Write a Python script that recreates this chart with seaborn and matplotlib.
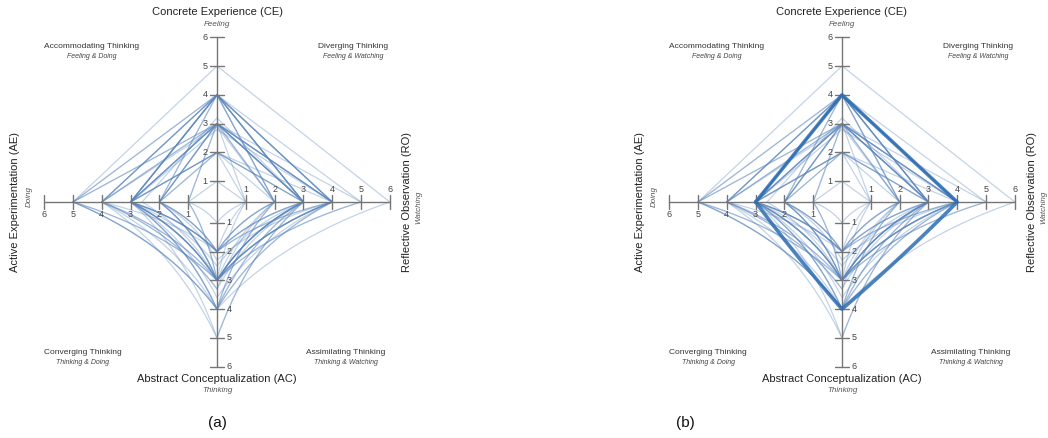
import numpy as np
import pandas as pd
import seaborn as sns
import matplotlib.pyplot as plt

# scores per learner: Concrete Experience, Reflective Observation,
# Abstract Conceptualization, Active Experimentation
ce = [5, 4, 4, 3, 3, 4, 3, 2, 1, 2, 4, 3, 4, 3, 4, 3, 2, 4, 3, 4, 3, 3, 2, 4, 3, 4, 3, 4, 3, 2.8,
      3, 4, 2, 3, 4, 3, 3.2, 2.9, 4, 2, 4]
ro = [6, 4, 3, 3, 4, 4, 3, 3, 1, 2, 5, 4, 3, 2, 4, 3, 4, 2, 4, 3, 1, 3, 3, 4, 5, 3, 4, 2, 3, 4,
      2, 3, 3, 4, 4, 3, 3, 2, 3, 1, 2]
ac = [4, 3, 3, 3, 2, 4, 2, 3, 1, 2, 3, 3, 5, 4, 2, 3, 3, 3, 4, 2, 3, 4, 2, 3, 3, 3.3, 3, 2, 5, 3.6,
      2, 4, 3, 2.3, 3, 3, 3, 3.3, 2.5, 2, 4]
ae = [5, 3, 3, 3, 3, 3, 2, 2, 1, 2, 4, 5, 3, 3, 4, 4, 3, 2, 3, 3, 1, 5, 3, 5, 3, 4, 2, 3, 4, 3,
      2, 5, 3, 2, 2, 1, 2.6, 4, 3, 3, 4]

# profile emphasised in panel (b)
hl_ce, hl_ro, hl_ac, hl_ae = 4, 4, 4, 3

tick_vals = [1, 2, 3, 4, 5, 6]
panel_tags = ['(a)', '(b)']

sns.set_theme(style='white')
plt.rcParams['font.family'] = ['Liberation Sans Narrow', 'Liberation Sans', 'DejaVu Sans']

U = 28.8       # pixels per score unit
VOFF = 0.28    # vertical axes start slightly off the centre
AX_COL = '#767676'
LINE_COL = '#5a86bd'
TXT = '#444444'


def bez(p0, p2, bend, n=24):
    c = (bend * (p0[0] + p2[0]), bend * (p0[1] + p2[1]))
    t = np.linspace(0, 1, n)
    x = (1 - t) ** 2 * p0[0] + 2 * (1 - t) * t * c[0] + t ** 2 * p2[0]
    y = (1 - t) ** 2 * p0[1] + 2 * (1 - t) * t * c[1] + t ** 2 * p2[1]
    return list(x), list(y)


def outline(c, r, a, e, bend=0.36):
    # upper edges straight, lower edges bow towards the centre
    top = (0, c - VOFF)
    right = (r, 0)
    bottom = (0, -(a - VOFF))
    left = (-e, 0)
    xs = [left[0], top[0], right[0]]
    ys = [left[1], top[1], right[1]]
    bx, by = bez(right, bottom, bend)
    xs += bx[1:]
    ys += by[1:]
    bx, by = bez(bottom, left, bend)
    xs += bx[1:]
    ys += by[1:]
    return xs, ys


rows = []
for i in range(len(ce)):
    xs, ys = outline(ce[i], ro[i], ac[i], ae[i])
    for j in range(len(xs)):
        rows.append({'id': i, 'order': j, 'x': xs[j], 'y': ys[j]})
df = pd.DataFrame(rows)

hx, hy = outline(hl_ce, hl_ro, hl_ac, hl_ae, bend=0.52)
df_hl = pd.DataFrame({'id': 0, 'order': range(len(hx)), 'x': hx, 'y': hy})

fig = plt.figure(figsize=(10.48, 4.38), dpi=100)
centers = [217, 842]
edges = [(0, 524), (524, 1048)]

for k in range(2):
    cx = centers[k]
    l, r = edges[k]
    ax = fig.add_axes([l / 1048, 0, (r - l) / 1048, 1])
    ax.set_xlim((l - cx) / U, (r - cx) / U)
    ax.set_ylim(-(438 - 202) / U, 202 / U)
    ax.axis('off')

    sns.lineplot(data=df, x='x', y='y', units='id', estimator=None, sort=False,
                 color=LINE_COL, alpha=0.36, linewidth=0.9, ax=ax, zorder=2)
    if k == 1:
        sns.lineplot(data=df_hl, x='x', y='y', units='id', estimator=None, sort=False,
                     color='#2c6db3', alpha=0.85, linewidth=2.6, ax=ax, zorder=4)

    # axes cross
    top6 = 6 - VOFF
    ax.plot([0, 0], [-top6, top6], color=AX_COL, lw=1.0, zorder=3)
    ax.plot([-6, 6], [0, 0], color=AX_COL, lw=1.0, zorder=3)
    tl = 0.23
    for v in tick_vals:
        yv = v - VOFF
        ax.plot([-tl, tl], [yv, yv], color=AX_COL, lw=1.0, zorder=3)
        ax.plot([-tl, tl], [-yv, -yv], color=AX_COL, lw=1.0, zorder=3)
        ax.plot([v, v], [-tl, tl], color=AX_COL, lw=1.0, zorder=3)
        ax.plot([-v, -v], [-tl, tl], color=AX_COL, lw=1.0, zorder=3)
        ax.text(-0.42, yv, str(v), ha='center', va='center', fontsize=6.5, color=TXT)
        ax.text(0.42, -yv, str(v), ha='center', va='center', fontsize=6.5, color=TXT)
        ax.text(v, 0.45, str(v), ha='center', va='center', fontsize=6.5, color=TXT)
        ax.text(-v, -0.45, str(v), ha='center', va='center', fontsize=6.5, color=TXT)

    # dimension names
    ax.text(0, 190 / U, 'Concrete Experience (CE)', ha='center', va='center', fontsize=8, color='#222222')
    ax.text(0, 177 / U, 'Feeling', ha='center', va='center', fontsize=5.8, style='italic', color='#555555')
    ax.text(0, -177 / U, 'Abstract Conceptualization (AC)', ha='center', va='center', fontsize=8,
            color='#222222')
    ax.text(0, -189 / U, 'Thinking', ha='center', va='center', fontsize=5.8, style='italic', color='#555555')
    ax.text(-202 / U, 0, 'Active Experimentation (AE)', ha='center', va='center', rotation=90,
            fontsize=8, color='#222222')
    ax.text(-188 / U, 0.2, 'Doing', ha='center', va='center', rotation=90, fontsize=5.8,
            style='italic', color='#555555')
    ax.text(190 / U, 0, 'Reflective Observation (RO)', ha='center', va='center', rotation=90,
            fontsize=8, color='#222222')
    ax.text(202 / U, -0.2, 'Watching', ha='center', va='center', rotation=90, fontsize=5.8,
            style='italic', color='#555555')

    # quadrant styles
    quads = [(-125, 155, 'Accommodating Thinking', 'Feeling & Doing'),
             (136, 155, 'Diverging Thinking', 'Feeling & Watching'),
             (-134, -150, 'Converging Thinking', 'Thinking & Doing'),
             (129, -150, 'Assimilating Thinking', 'Thinking & Watching')]
    for qx, qy, name, sub in quads:
        ax.text(qx / U, qy / U, name, ha='center', va='center', fontsize=6, color='#333333')
        ax.text(qx / U, (qy - 10) / U, sub, ha='center', va='center', fontsize=5,
                style='italic', color='#444444')

    tag_x = 0 if k == 0 else -157 / U
    ax.text(tag_x, -221 / U, panel_tags[k], ha='center', va='center', fontsize=11,
            color='#111111', family=['Liberation Sans', 'DejaVu Sans'])

fig.savefig('out.png', dpi=100)
